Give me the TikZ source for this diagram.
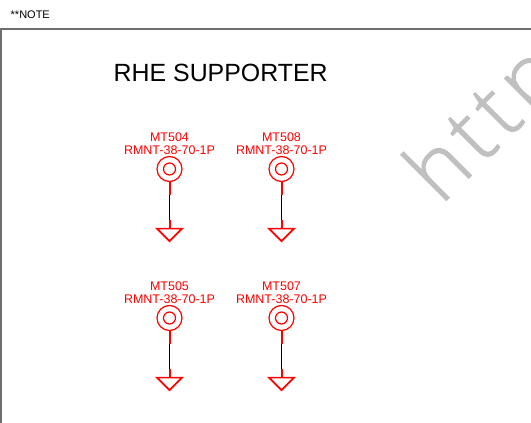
\documentclass[tikz,border=0pt]{standalone}
\usepackage{fontspec}
\setmainfont{Liberation Sans}
\newfontfamily\wmfont[LetterSpace=8,FakeBold=1.2]{Open Sans Light}
\definecolor{sym}{RGB}{255,0,0}
\definecolor{frameg}{RGB}{110,110,110}
\definecolor{wm}{RGB}{192,192,192}
\tikzset{
  ring/.style={circle,draw=sym,line width=1.2pt,minimum size=25pt,inner sep=0pt},
  hole/.style={circle,draw=sym,line width=1.2pt,minimum size=12pt,inner sep=0pt},
  reflabel/.style={text=sym,font=\fontsize{12.5}{12.2}\selectfont,align=center,inner sep=0pt,anchor=south},
  stub/.style={color=sym,line width=2pt},
  wire/.style={color=black,line width=0.8pt},
  gnd/.style={draw=sym,line width=1.7pt,line join=miter},
}
\newcommand{\mthole}[3]{%
  \node[ring] (r#1) at (#2pt,#3pt) {};
  \node[hole] (h#1) at (r#1.center) {};
  \node[reflabel] (l#1) at ([yshift=1.5pt]r#1.north) {MT#1\\RMNT-38-70-1P};
  \coordinate (a#1) at ([yshift=-12.5pt]r#1.south);
  \coordinate (b#1) at ([yshift=-37.5pt]r#1.south);
  \coordinate (g#1) at ([yshift=-46.5pt]r#1.south);
  \draw[wire] (a#1) -- (b#1);
  \draw[stub] (r#1.south) -- (a#1);
  \draw[stub] (b#1) -- (g#1);
  \draw[gnd] ([xshift=-12.5pt]g#1) -- ([xshift=12.5pt]g#1) -- ([yshift=-12.5pt]g#1) -- cycle;
}
\begin{document}
\begin{tikzpicture}[x=1pt,y=1pt]
\useasboundingbox (0,-423) rectangle (531,0);
\clip (0,-423) rectangle (531,0);
\node[text=wm,font=\wmfont\fontsize{85}{85}\selectfont,rotate=45,anchor=base west,inner sep=0pt] (wmark) at (441,-206) {http};
\draw[frameg,line width=1.4pt] (1,-423) -- (1,-29) -- (531,-29);
\node[font=\fontsize{11}{11}\selectfont,anchor=base west,inner sep=0pt] (note) at (10.5,-18) {**NOTE};
\node[font=\fontsize{24.9}{24.9}\selectfont,anchor=base west,inner sep=0pt] (title) at (113.5,-81) {RHE SUPPORTER};
\mthole{504}{169.5}{-169}
\mthole{508}{281.5}{-169}
\mthole{505}{169.5}{-318}
\mthole{507}{281.5}{-318}
\end{tikzpicture}
\end{document}
